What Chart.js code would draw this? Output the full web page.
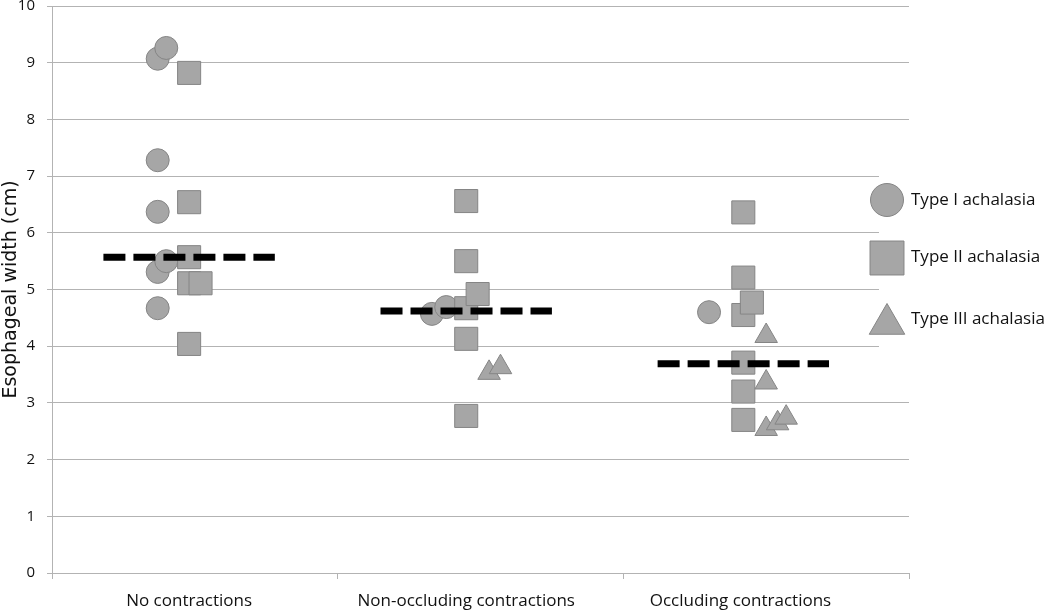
<!DOCTYPE html>
<html>
<head>
<meta charset="utf-8">
<script src="https://cdn.jsdelivr.net/npm/chart.js@4.4.0/dist/chart.umd.min.js"></script>
<style>
  body { margin: 0; background: #fff; }
</style>
</head>
<body>
<canvas id="myChart" width="1050" height="610"></canvas>
<script>
// categories and where their labels sit on the x scale (0..3)
const categories = ['No contractions', 'Non-occluding contractions', 'Occluding contractions'];
const labelPos = [0.48, 1.45, 2.41];

// Type I achalasia (circles)
const type1X = [0.37, 0.40, 0.37, 0.37, 0.37, 0.40, 0.37, 1.33, 1.38, 2.30];
const type1Y = [9.07, 9.26, 7.28, 6.37, 5.31, 5.50, 4.67, 4.57, 4.69, 4.60];

// Type II achalasia (squares)
const type2X = [0.48, 0.48, 0.48, 0.48, 0.52, 0.48, 1.45, 1.45, 1.45, 1.49, 1.45, 1.45, 2.42, 2.42, 2.42, 2.45, 2.42, 2.42, 2.42];
const type2Y = [8.82, 6.54, 5.57, 5.11, 5.11, 4.04, 6.56, 5.50, 4.67, 4.92, 4.13, 2.77, 6.36, 5.21, 4.55, 4.77, 3.71, 3.20, 2.70];

// Type III achalasia (triangles)
const type3X = [1.53, 1.57, 2.50, 2.50, 2.50, 2.54, 2.57];
const type3Y = [3.53, 3.63, 4.18, 3.36, 2.54, 2.64, 2.74];

// group means (dashed lines)
const meanCenter = [0.48, 1.45, 2.42];
const meanY = [5.57, 4.62, 3.69];

const fill = '#a6a6a6';
const edge = '#858585';
const grid = '#b3b3b3';

function pts(xs, ys) {
  return xs.map((x, i) => ({ x: x, y: ys[i] }));
}

const meanSets = meanY.map((m, i) => ({
  type: 'scatter',
  showLine: true,
  data: [{ x: meanCenter[i] - 0.3, y: m }, { x: meanCenter[i] + 0.3, y: m }],
  borderColor: '#000',
  borderWidth: 7,
  borderDash: [22, 8],
  borderCapStyle: 'butt',
  pointRadius: 0,
  order: 0
}));

const legendBox = {
  id: 'legendBox',
  afterDraw(chart) {
    const ctx = chart.ctx;
    ctx.save();
    ctx.fillStyle = '#fff';
    ctx.fillRect(879, 150, 171, 210);
    const items = [
      { style: 'circle', r: 16.5, x: 887, y: 200, ty: 200, text: 'Type I achalasia' },
      { style: 'rect', r: 24, x: 887, y: 258, ty: 257, text: 'Type II achalasia' },
      { style: 'triangle', r: 20.5, x: 887, y: 324, ty: 319, text: 'Type III achalasia' }
    ];
    items.forEach(it => {
      ctx.fillStyle = fill;
      ctx.strokeStyle = edge;
      ctx.lineWidth = 1;
      Chart.helpers.drawPoint(ctx, { pointStyle: it.style, radius: it.r, rotation: 0, borderWidth: 1 }, it.x, it.y);
      ctx.fillStyle = '#111';
      ctx.font = '17px "Open Sans"';
      ctx.textAlign = 'left';
      ctx.textBaseline = 'middle';
      ctx.fillText(it.text, 911, it.ty);
    });
    ctx.restore();
  }
};

const config = {
  type: 'scatter',
  data: {
    datasets: [
      { data: pts(type1X, type1Y), pointStyle: 'circle', pointRadius: 11.5, backgroundColor: fill, borderColor: edge, borderWidth: 1, order: 3 },
      { data: pts(type2X, type2Y), pointStyle: 'rect', pointRadius: 16.3, backgroundColor: fill, borderColor: edge, borderWidth: 1, order: 2 },
      { data: pts(type3X, type3Y), pointStyle: 'triangle', pointRadius: 13, backgroundColor: fill, borderColor: edge, borderWidth: 1, order: 1 }
    ].concat(meanSets)
  },
  options: {
    responsive: false,
    animation: false,
    events: [],
    layout: { autoPadding: false, padding: { top: 6, right: 141, bottom: 0, left: 0 } },
    plugins: { legend: { display: false }, tooltip: { enabled: false } },
    scales: {
      x: {
        type: 'linear',
        position: 'bottom',
        min: 0,
        max: 3,
        weight: 0,
        ticks: { display: false, stepSize: 1 },
        grid: { drawOnChartArea: false, drawTicks: true, tickLength: 6, color: grid },
        border: { color: grid },
        afterFit(scale) { scale.height = 6; scale.paddingLeft = 0; scale.paddingRight = 0; }
      },
      xl: {
        type: 'linear',
        position: 'bottom',
        min: 0,
        max: 3,
        weight: 1,
        afterBuildTicks(scale) { scale.ticks = labelPos.map(v => ({ value: v })); },
        ticks: {
          autoSkip: false,
          maxRotation: 0,
          padding: 4,
          color: '#111',
          font: { family: 'Open Sans', size: 17 },
          callback: (v, i) => categories[i]
        },
        grid: { display: false },
        border: { display: false },
        afterFit(scale) { scale.height = 31; scale.paddingLeft = 0; scale.paddingRight = 0; }
      },
      y: {
        min: 0,
        max: 10,
        ticks: { stepSize: 1, padding: 12, color: '#111', font: { family: 'Open Sans', size: 15 } },
        grid: { color: grid, tickLength: 5 },
        border: { color: grid },
        title: {
          display: true,
          text: 'Esophageal width (cm)',
          color: '#111',
          font: { family: 'DejaVu Sans', size: 19 },
          padding: { top: 0, bottom: 0 }
        },
        afterFit(scale) { scale.width = 52; scale.paddingTop = 0; scale.paddingBottom = 0; }
      }
    }
  },
  plugins: [legendBox]
};

var myChart = new Chart(document.getElementById('myChart'), config);
</script>
</body>
</html>
